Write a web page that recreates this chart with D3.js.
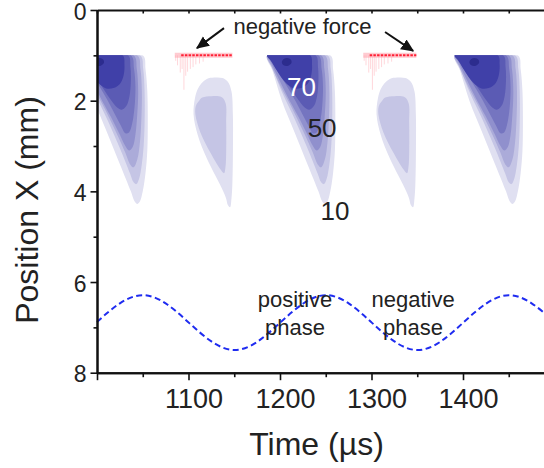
<!DOCTYPE html>
<html>
<head>
<meta charset="utf-8">
<script src="https://cdn.jsdelivr.net/npm/d3@7"></script>
<style>
  html, body { margin: 0; padding: 0; background: #fff; }
  svg { display: block; font-family: "Liberation Sans", Arial, Helvetica, sans-serif; }
</style>
</head>
<body>
<svg id="chart" width="544" height="468"></svg>
<script>
// Force-intensity contours of one drive cycle: [µs after pulse onset, position mm]
const contour10 = [[0,1],[69,1],[72,1.3],[74,1.8],[74.5,2.5],[74,3.1],[72,3.6],[69,4.0],[66,4.22],[63,4.28],[60,4.22],[56,4.0],[44,3.4],[30,2.7],[16,2.0],[6,1.35]];
const contour20 = [[0,1],[66,1],[69.5,1.3],[71,1.8],[71,2.5],[70,3.0],[68,3.4],[65,3.72],[62,3.84],[59,3.8],[55,3.6],[44,3.05],[31,2.45],[17,1.85],[6,1.3]];
const contour30 = [[0,1],[63,1],[66.5,1.3],[68,1.8],[67.5,2.4],[66,2.9],[63,3.3],[59,3.47],[55,3.4],[50,3.15],[40,2.7],[28,2.2],[15,1.7],[5,1.25]];
const contour40 = [[0,1],[59,1],[62.5,1.3],[64,1.8],[63,2.3],[61,2.75],[58,3.02],[54,3.1],[50,3.0],[44,2.75],[34,2.35],[22,1.9],[11,1.45],[4,1.15]];
const contour50 = [[0,1],[56,1],[59.5,1.3],[61,1.7],[60,2.15],[57.5,2.5],[54,2.7],[50,2.72],[45,2.55],[36,2.2],[25,1.8],[13,1.4],[4,1.12]];
const contour60 = [[0,1],[53,1],[55.5,1.25],[56,1.55],[54.5,1.9],[51,2.12],[46,2.2],[41,2.15],[33,1.95],[23,1.65],[12,1.33],[4,1.1]];
const contour70 = [[0,1],[47,1],[49,1.2],[48,1.45],[44,1.63],[37,1.72],[29,1.73],[20,1.6],[11,1.35],[4,1.12]];
const contour80 = [[16,1.15],[18,1.08],[22,1.06],[26,1.1],[26.5,1.17],[23,1.23],[18,1.22]];
const contourLevels = [10, 20, 30, 40, 50, 60, 70, 80];

// Pulse onsets (µs) of the strong positive-force lobes
const pulseOnsets = [981, 1186, 1391];

// Weak lobe that follows each negative-force burst: [µs after onset, mm]
const weakOuter = [[9,1.62],[15,1.52],[23,1.49],[32,1.5],[38,1.58],[42,1.8],[43.5,2.3],[43.6,3.0],[43,3.8],[42,4.15],[40.4,4.35],[38,4.3],[36,4.15],[29.4,3.85],[15.2,3.28],[5,2.75],[0.5,2.3],[2,1.95],[5,1.75]];
const weakInner = [[6,2.02],[10,1.93],[20,1.9],[31,1.92],[35.5,2.05],[36.2,2.5],[36.2,3.1],[35.5,3.45],[33.8,3.6],[30,3.52],[19,3.15],[8,2.7],[2.5,2.3],[3,2.12]];
const weakLevels = [10, 20];
const weakOnsets = [1105, 1305];

// Negative-force bursts at the entrance (1 mm): start / end time in µs
const forceStart = [1085, 1291];
const forceEnd = [1148, 1349];
// Streaks hanging below each burst: [µs after start, depth mm]
const forceStreaks = [[1,1.12],[3,1.22],[6,1.38],[8,1.3],[10,1.76],[12,1.45],[14,1.36],[17,1.3],[20,1.26],[23,1.2],[27,1.18],[31,1.14]];

// Drive signal (dashed), position mm vs time µs
const driveTime = [1000,1025,1050,1075,1100,1125,1150,1175,1200,1225,1250,1275,1300,1325,1350,1375,1400,1425,1450,1475,1500];
const drivePos  = [6.88,6.47,6.29,6.47,6.89,7.31,7.50,7.32,6.90,6.48,6.29,6.47,6.89,7.31,7.50,7.32,6.90,6.48,6.29,6.47,6.88];

// Axis ticks
const xMajor = [1000, 1100, 1200, 1300, 1400, 1500];
const xMinor = [1050, 1150, 1250, 1350, 1450];
const yMajor = [0, 2, 4, 6, 8];
const yMinor = [1, 3, 5, 7];

// Contour labels: [text, µs, mm]
const levelLabels = [["70", 1223.5, 1.9], ["50", 1246, 2.8], ["10", 1260, 4.63]];

const svg = d3.select("#chart");
const x = d3.scaleLinear().domain([1000, 1500]).range([97, 554.5]);
const y = d3.scaleLinear().domain([0, 8]).range([10, 372.7]);

const levelColor = d3.scaleLinear().domain([10, 70, 80])
  .range(["#e0e0f1", "#4040a8", "#2c2c8e"]);

const defs = svg.append("defs");
defs.append("clipPath").attr("id", "plotClip")
  .append("rect")
  .attr("x", x(1000)).attr("y", y(1))
  .attr("width", x(1500) - x(1000)).attr("height", y(8) - y(1));

defs.append("marker").attr("id", "head")
  .attr("viewBox", "0 0 10 10").attr("refX", 9).attr("refY", 5)
  .attr("markerWidth", 6.5).attr("markerHeight", 6.5)
  .attr("markerUnits", "strokeWidth").attr("orient", "auto")
  .append("path").attr("d", "M0,0.5 L10,5 L0,9.5 z").attr("fill", "#111");

const shapes = [contour10, contour20, contour30, contour40, contour50, contour60, contour70, contour80];

const blob = onset => d3.line()
  .x(d => x(onset + d[0]))
  .y(d => y(d[1]))
  .curve(d3.curveCatmullRomClosed.alpha(0.5));

const contourLayer = svg.append("g").attr("clip-path", "url(#plotClip)");

// Weak lobes
weakOnsets.forEach(t0 => {
  [weakOuter, weakInner].forEach((s, i) => {
    contourLayer.append("path")
      .attr("d", blob(t0)(s))
      .attr("fill", levelColor(weakLevels[i]));
  });
});

// Strong lobes, drawn from the outer level inward
pulseOnsets.forEach(t0 => {
  shapes.forEach((s, i) => {
    contourLayer.append("path")
      .attr("d", blob(t0)(s))
      .attr("fill", levelColor(contourLevels[i]));
  });
});

// Negative-force bursts
const forceLayer = svg.append("g");
forceStart.forEach((t0, k) => {
  const t1 = forceEnd[k];
  forceStreaks.forEach(([dt, depth]) => {
    forceLayer.append("line")
      .attr("x1", x(t0 + dt)).attr("x2", x(t0 + dt))
      .attr("y1", y(1)).attr("y2", y(depth))
      .attr("stroke", "#ff7a88").attr("stroke-opacity", 0.3).attr("stroke-width", 1);
  });
  forceLayer.append("line")
    .attr("x1", x(t0)).attr("x2", x(t1))
    .attr("y1", y(1)).attr("y2", y(1))
    .attr("stroke", "#ffa0ab").attr("stroke-opacity", 0.55).attr("stroke-width", 5);
  forceLayer.append("line")
    .attr("x1", x(t0 + 7)).attr("x2", x(t1))
    .attr("y1", y(1)).attr("y2", y(1))
    .attr("stroke", "#ff2035").attr("stroke-width", 2)
    .attr("stroke-dasharray", "2.5,1.2");
});

// Drive signal
svg.append("path")
  .datum(driveTime.map((t, i) => [t, drivePos[i]]))
  .attr("d", d3.line().x(d => x(d[0])).y(d => y(d[1])).curve(d3.curveNatural))
  .attr("fill", "none")
  .attr("stroke", "#1f2cf0")
  .attr("stroke-width", 2)
  .attr("stroke-dasharray", "6,3.5");

// Contour level labels
svg.append("g").selectAll("text").data(levelLabels).join("text")
  .attr("x", d => x(d[1])).attr("y", d => y(d[2]))
  .attr("text-anchor", "middle")
  .attr("font-size", 26)
  .attr("fill", d => d[0] === "70" ? "#ffffff" : "#222")
  .text(d => d[0]);

// Annotations
const note = svg.append("g").attr("fill", "#222").attr("font-size", 22).attr("text-anchor", "middle");
note.append("text").attr("x", x(1224.6)).attr("y", y(0.53)).text("negative force");
note.append("text").attr("x", x(1216.4)).attr("y", y(6.55)).text("positive");
note.append("text").attr("x", x(1216.4)).attr("y", y(7.17)).text("phase");
note.append("text").attr("x", x(1345.4)).attr("y", y(6.55)).text("negative");
note.append("text").attr("x", x(1345.4)).attr("y", y(7.17)).text("phase");

const arrows = [[1138.8, 0.40, 1109.3, 0.84], [1314.8, 0.485, 1345.4, 0.9]];
svg.append("g").selectAll("line").data(arrows).join("line")
  .attr("x1", d => x(d[0])).attr("y1", d => y(d[1]))
  .attr("x2", d => x(d[2])).attr("y2", d => y(d[3]))
  .attr("stroke", "#111").attr("stroke-width", 2)
  .attr("marker-end", "url(#head)");

// Axes
function styleAxis(g) {
  g.selectAll(".domain").attr("stroke", "#111").attr("stroke-width", 2);
  g.selectAll(".tick line").attr("stroke", "#111").attr("stroke-width", 1.6);
  g.selectAll(".tick text").attr("fill", "#222");
}

svg.append("g").attr("transform", `translate(0,${y(8)})`)
  .call(d3.axisBottom(x).tickValues(xMinor).tickSize(4.5).tickSizeOuter(0).tickFormat(""))
  .call(styleAxis);
svg.append("g").attr("transform", `translate(0,${y(8)})`)
  .call(d3.axisBottom(x).tickValues(xMajor).tickSize(7.5).tickSizeOuter(0).tickPadding(9)
    .tickFormat(d => (d === 1000 || d === 1500) ? "" : d))
  .call(styleAxis)
  .call(g => g.selectAll(".tick text").attr("font-size", 27).attr("dx", 5));

svg.append("g").attr("transform", `translate(0,${y(0)})`)
  .call(d3.axisTop(x).tickValues(xMajor.concat(xMinor)).tickSize(-3.5).tickSizeOuter(0).tickFormat(""))
  .call(styleAxis);

svg.append("g").attr("transform", `translate(${x(1000)},0)`)
  .call(d3.axisLeft(y).tickValues(yMinor).tickSize(3.5).tickSizeOuter(0).tickFormat(""))
  .call(styleAxis);
svg.append("g").attr("transform", `translate(${x(1000)},0)`)
  .call(d3.axisLeft(y).tickValues(yMajor).tickSize(6.5).tickSizeOuter(0).tickPadding(4))
  .call(styleAxis)
  .call(g => g.selectAll(".tick text").attr("font-size", 23).attr("dy", "0.4em"));

// Axis titles
svg.append("text")
  .attr("x", 316.5).attr("y", 455)
  .attr("text-anchor", "middle").attr("font-size", 32).attr("fill", "#222")
  .text("Time (µs)");
svg.append("text")
  .attr("transform", "translate(38,210) rotate(-90)")
  .attr("text-anchor", "middle").attr("font-size", 32).attr("fill", "#222")
  .text("Position X (mm)");
</script>
</body>
</html>
